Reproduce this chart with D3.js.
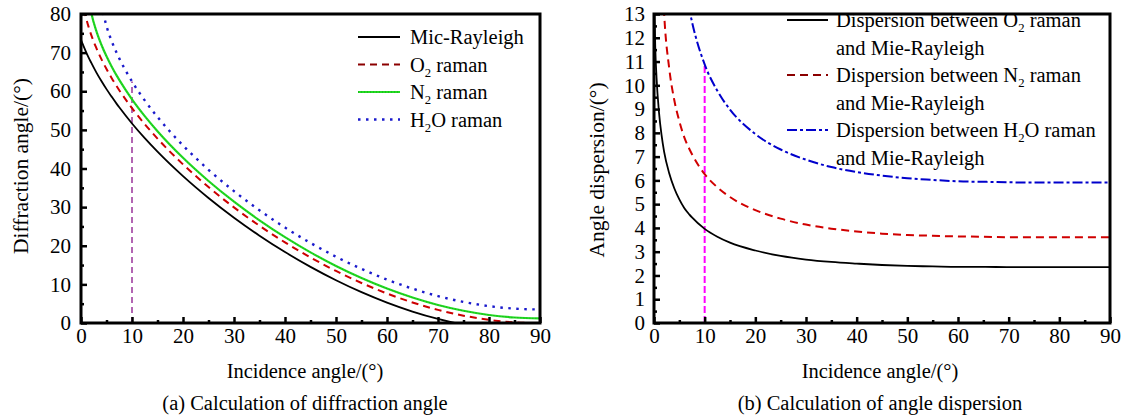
<!DOCTYPE html>
<html>
<head>
<meta charset="utf-8">
<script src="https://cdn.jsdelivr.net/npm/d3@7"></script>
<style>
  body { margin: 0; background: #fff; }
  svg { display: block; }
</style>
</head>
<body>
<svg id="chart" width="1127" height="416"></svg>
<script>
// Incidence angles (degrees) shared by every series
const incidence = [0, 0.25, 0.5, 1, 1.5, 2, 3, 4, 5, 6, 7, 7.5, 10, 12.5, 15, 20, 25, 30, 35, 40, 45, 50, 55, 60, 65, 70, 75, 80, 85, 90];

// (a) diffraction angle (degrees) of each channel
const mieRayleigh = [73.3, 72.48, 71.67, 70.15, 68.72, 67.4, 64.9, 62.65, 60.55, 58.61, 56.73, 55.84, 51.66, 47.86, 44.36, 38.02, 32.37, 27.26, 22.61, 18.37, 14.53, 11.07, 7.98, 5.28, 2.96, 1.05, -0.45, -1.54, -2.19, -2.41];
const o2Raman     = [87.44, 84.07, 82.0, 78.98, 76.61, 74.6, 71.2, 68.32, 65.76, 63.44, 61.30, 60.28, 55.62, 51.49, 47.74, 41.07, 35.19, 29.93, 25.18, 20.87, 16.97, 13.47, 10.36, 7.64, 5.32, 3.40, 1.90, 0.81, 0.16, -0.06];
const n2Raman     = [null, null, null, null, 84.17, 80.43, 75.62, 72.03, 69.04, 66.41, 64.04, 62.94, 57.92, 53.57, 49.66, 42.77, 36.76, 31.40, 26.58, 22.22, 18.29, 14.77, 11.65, 8.92, 6.59, 4.66, 3.16, 2.07, 1.42, 1.20];
const h2oRaman    = [null, null, null, null, null, null, null, 82.41, 76.87, 73.03, 69.90, 68.51, 62.54, 57.63, 53.34, 45.97, 39.67, 34.13, 29.17, 24.72, 20.73, 17.16, 14.00, 11.24, 8.90, 6.97, 5.46, 4.37, 3.72, 3.50];

// (b) angle dispersion (degrees) relative to Mie-Rayleigh
const dispO2  = [14.14, 11.59, 10.33, 8.83, 7.89, 7.2, 6.3, 5.67, 5.20, 4.83, 4.56, 4.44, 3.96, 3.63, 3.38, 3.05, 2.82, 2.67, 2.57, 2.50, 2.44, 2.40, 2.38, 2.36, 2.36, 2.35, 2.35, 2.35, 2.35, 2.35];
const dispN2  = [null, null, null, null, 15.45, 13.03, 10.72, 9.38, 8.49, 7.80, 7.31, 7.10, 6.26, 5.71, 5.30, 4.75, 4.39, 4.14, 3.97, 3.85, 3.76, 3.70, 3.67, 3.64, 3.63, 3.61, 3.61, 3.61, 3.61, 3.61];
const dispH2O = [null, null, null, null, null, null, null, 19.76, 16.32, 14.42, 13.17, 12.67, 10.88, 9.77, 8.98, 7.95, 7.30, 6.87, 6.56, 6.35, 6.20, 6.09, 6.02, 5.96, 5.94, 5.92, 5.91, 5.91, 5.91, 5.91];

// Working incidence angle highlighted by the vertical guide
const guideIncidence = 10;

// Tick values
const xMajorTicks = [0, 10, 20, 30, 40, 50, 60, 70, 80, 90];
const xMinorTicks = [5, 15, 25, 35, 45, 55, 65, 75, 85];
const yMajorTicksA = [0, 10, 20, 30, 40, 50, 60, 70, 80];
const yMinorTicksA = [5, 15, 25, 35, 45, 55, 65, 75];
const yMajorTicksB = [0, 1, 2, 3, 4, 5, 6, 7, 8, 9, 10, 11, 12, 13];
const yMinorTicksB = [0.5, 1.5, 2.5, 3.5, 4.5, 5.5, 6.5, 7.5, 8.5, 9.5, 10.5, 11.5, 12.5];

const svg = d3.select("#chart");
const FONT = 20.5;       // legend, axis titles, captions
const TICK_FONT = 21;    // tick labels
const YTITLE_FONT = 21.5;
const FAMILY = "'Liberation Serif', 'DejaVu Serif', 'Times New Roman', serif";

function serif(sel, size) {
  return sel.style("font-family", FAMILY).style("font-size", (size || FONT) + "px").style("fill", "#000");
}

function subLabel(sel, parts) {
  // parts: array of [text, isSubscript]
  let prevSub = false;
  parts.forEach(([t, sub]) => {
    const ts = sel.append("tspan").text(t);
    if (sub) ts.style("font-size", (FONT * 0.62) + "px").attr("dy", 5);
    else if (prevSub) ts.attr("dy", -5);
    prevSub = sub;
  });
}

function drawPanel(cfg) {
  const g = svg.append("g");
  const x = d3.scaleLinear().domain([0, 90]).range([cfg.left, cfg.right]);
  const y = d3.scaleLinear().domain([0, cfg.yMax]).range([cfg.bottom, cfg.top]);

  const clipId = "clip-" + cfg.id;
  svg.append("defs").append("clipPath").attr("id", clipId)
    .append("rect").attr("x", cfg.left).attr("y", cfg.top)
    .attr("width", cfg.right - cfg.left).attr("height", cfg.bottom - cfg.top);

  const plot = g.append("g").attr("clip-path", `url(#${clipId})`);

  // vertical guide at the working incidence angle
  plot.append("line")
    .attr("x1", x(guideIncidence)).attr("x2", x(guideIncidence))
    .attr("y1", y(0)).attr("y2", y(cfg.guideTop))
    .attr("stroke", cfg.guideColor).attr("stroke-width", cfg.guideWidth)
    .attr("stroke-dasharray", cfg.guideDash);

  const line = d3.line()
    .defined(d => d[1] != null)
    .x(d => x(d[0])).y(d => y(d[1]))
    .curve(d3.curveMonotoneX);

  cfg.series.forEach(s => {
    const pts = incidence.map((v, i) => [v, s.values[i]]);
    plot.append("path").datum(pts)
      .attr("fill", "none").attr("stroke", s.color)
      .attr("stroke-width", s.width)
      .attr("stroke-dasharray", s.dash || null)
      .attr("d", line);
    if (s.overlay) {
      plot.append("path").datum(pts)
        .attr("fill", "none").attr("stroke", s.overlay)
        .attr("stroke-width", 0.8).attr("stroke-dasharray", "1,2")
        .attr("opacity", 0.6)
        .attr("d", line);
    }
  });

  // axes with inward ticks
  const styleAxis = sel => {
    sel.select(".domain").remove();
    sel.selectAll(".tick line").attr("stroke", "#000").attr("stroke-width", 2.5);
    sel.selectAll("text").call(serif, TICK_FONT);
  };
  g.append("g").attr("transform", `translate(0,${cfg.bottom})`)
    .call(d3.axisBottom(x).tickValues(xMajorTicks).tickSize(-6).tickPadding(5).tickFormat(d3.format("d")))
    .call(styleAxis);
  g.append("g").attr("transform", `translate(0,${cfg.bottom})`)
    .call(d3.axisBottom(x).tickValues(xMinorTicks).tickSize(-3).tickFormat(""))
    .call(styleAxis);
  g.append("g").attr("transform", `translate(${cfg.left},0)`)
    .call(d3.axisLeft(y).tickValues(cfg.yMajor).tickSize(-6).tickPadding(cfg.yPad).tickFormat(d3.format("d")))
    .call(styleAxis);
  g.append("g").attr("transform", `translate(${cfg.left},0)`)
    .call(d3.axisLeft(y).tickValues(cfg.yMinor).tickSize(-3).tickFormat(""))
    .call(styleAxis);

  // frame
  g.append("rect")
    .attr("x", cfg.left).attr("y", cfg.top)
    .attr("width", cfg.right - cfg.left).attr("height", cfg.bottom - cfg.top)
    .attr("fill", "none").attr("stroke", "#000").attr("stroke-width", 3);

  // axis titles and caption
  g.append("text").attr("x", cfg.xTitleX).attr("y", 378).attr("text-anchor", "middle")
    .call(serif).text("Incidence angle/(°)");
  g.append("text").attr("x", cfg.xTitleX).attr("y", 410).attr("text-anchor", "middle")
    .call(serif).text(cfg.caption);
  g.append("text")
    .attr("transform", `translate(${cfg.yTitleX},${cfg.yTitleY}) rotate(-90)`)
    .attr("text-anchor", "middle").call(serif, YTITLE_FONT).text(cfg.yTitle);

  // legend
  let row = 0;
  cfg.series.forEach(s => {
    const ly = cfg.legendY + row * cfg.legendStep;
    g.append("line")
      .attr("x1", cfg.legendX).attr("x2", cfg.legendX + cfg.legendLen)
      .attr("y1", ly).attr("y2", ly)
      .attr("stroke", s.legendColor || s.color).attr("stroke-width", s.width)
      .attr("stroke-dasharray", s.dash || null);
    if (s.overlay) {
      g.append("line")
        .attr("x1", cfg.legendX).attr("x2", cfg.legendX + cfg.legendLen)
        .attr("y1", ly).attr("y2", ly)
        .attr("stroke", s.overlay).attr("stroke-width", 0.8)
        .attr("stroke-dasharray", "1,2").attr("opacity", 0.6);
    }
    s.label.forEach((parts, k) => {
      const t = g.append("text")
        .attr("x", cfg.legendX + cfg.legendLen + cfg.legendGap)
        .attr("y", ly + 7 + k * cfg.legendStep)
        .call(serif);
      subLabel(t, parts);
    });
    row += s.label.length;
  });
}

drawPanel({
  id: "a",
  left: 81, right: 540, top: 14, bottom: 323,
  yMax: 80, yMajor: yMajorTicksA, yMinor: yMinorTicksA, yPad: 10,
  yTitle: "Diffraction angle/(°)", yTitleX: 28, yTitleY: 166,
  xTitleX: 305,
  caption: "(a) Calculation of diffraction angle",
  guideTop: h2oRaman[incidence.indexOf(guideIncidence)],
  guideColor: "#993399", guideWidth: 1.5, guideDash: "6,4",
  legendX: 358, legendLen: 42, legendGap: 10, legendY: 37, legendStep: 27.5,
  series: [
    { values: mieRayleigh, color: "#000", width: 1.8, label: [[["Mic-Rayleigh", false]]] },
    { values: o2Raman, color: "#cc0000", legendColor: "#8b0000", width: 2, dash: "7,5",
      label: [[["O", false], ["2", true], [" raman", false]]] },
    { values: n2Raman, color: "#22dd22", width: 2.2, overlay: "#116611",
      label: [[["N", false], ["2", true], [" raman", false]]] },
    { values: h2oRaman, color: "#1a1acc", width: 2.4, dash: "2.5,5.5",
      label: [[["H", false], ["2", true], ["O raman", false]]] }
  ]
});

drawPanel({
  id: "b",
  left: 654, right: 1110, top: 14, bottom: 323,
  yMax: 13, yMajor: yMajorTicksB, yMinor: yMinorTicksB, yPad: 9,
  yTitle: "Angle dispersion/(°)", yTitleX: 604, yTitleY: 170,
  xTitleX: 880,
  caption: "(b) Calculation of angle dispersion",
  guideTop: dispH2O[incidence.indexOf(guideIncidence)],
  guideColor: "#ff00ff", guideWidth: 2, guideDash: "7,3",
  legendX: 787, legendLen: 41, legendGap: 8, legendY: 20, legendStep: 27.5,
  series: [
    { values: dispO2, color: "#000", width: 1.8,
      label: [[["Dispersion between O", false], ["2", true], [" raman", false]], [["and Mie-Rayleigh", false]]] },
    { values: dispN2, color: "#d00000", legendColor: "#8b0000", width: 2, dash: "8,5",
      label: [[["Dispersion between N", false], ["2", true], [" raman", false]], [["and Mie-Rayleigh", false]]] },
    { values: dispH2O, color: "#0000cc", width: 2, dash: "10,3,3,3",
      label: [[["Dispersion between H", false], ["2", true], ["O raman", false]], [["and Mie-Rayleigh", false]]] }
  ]
});
</script>
</body>
</html>
